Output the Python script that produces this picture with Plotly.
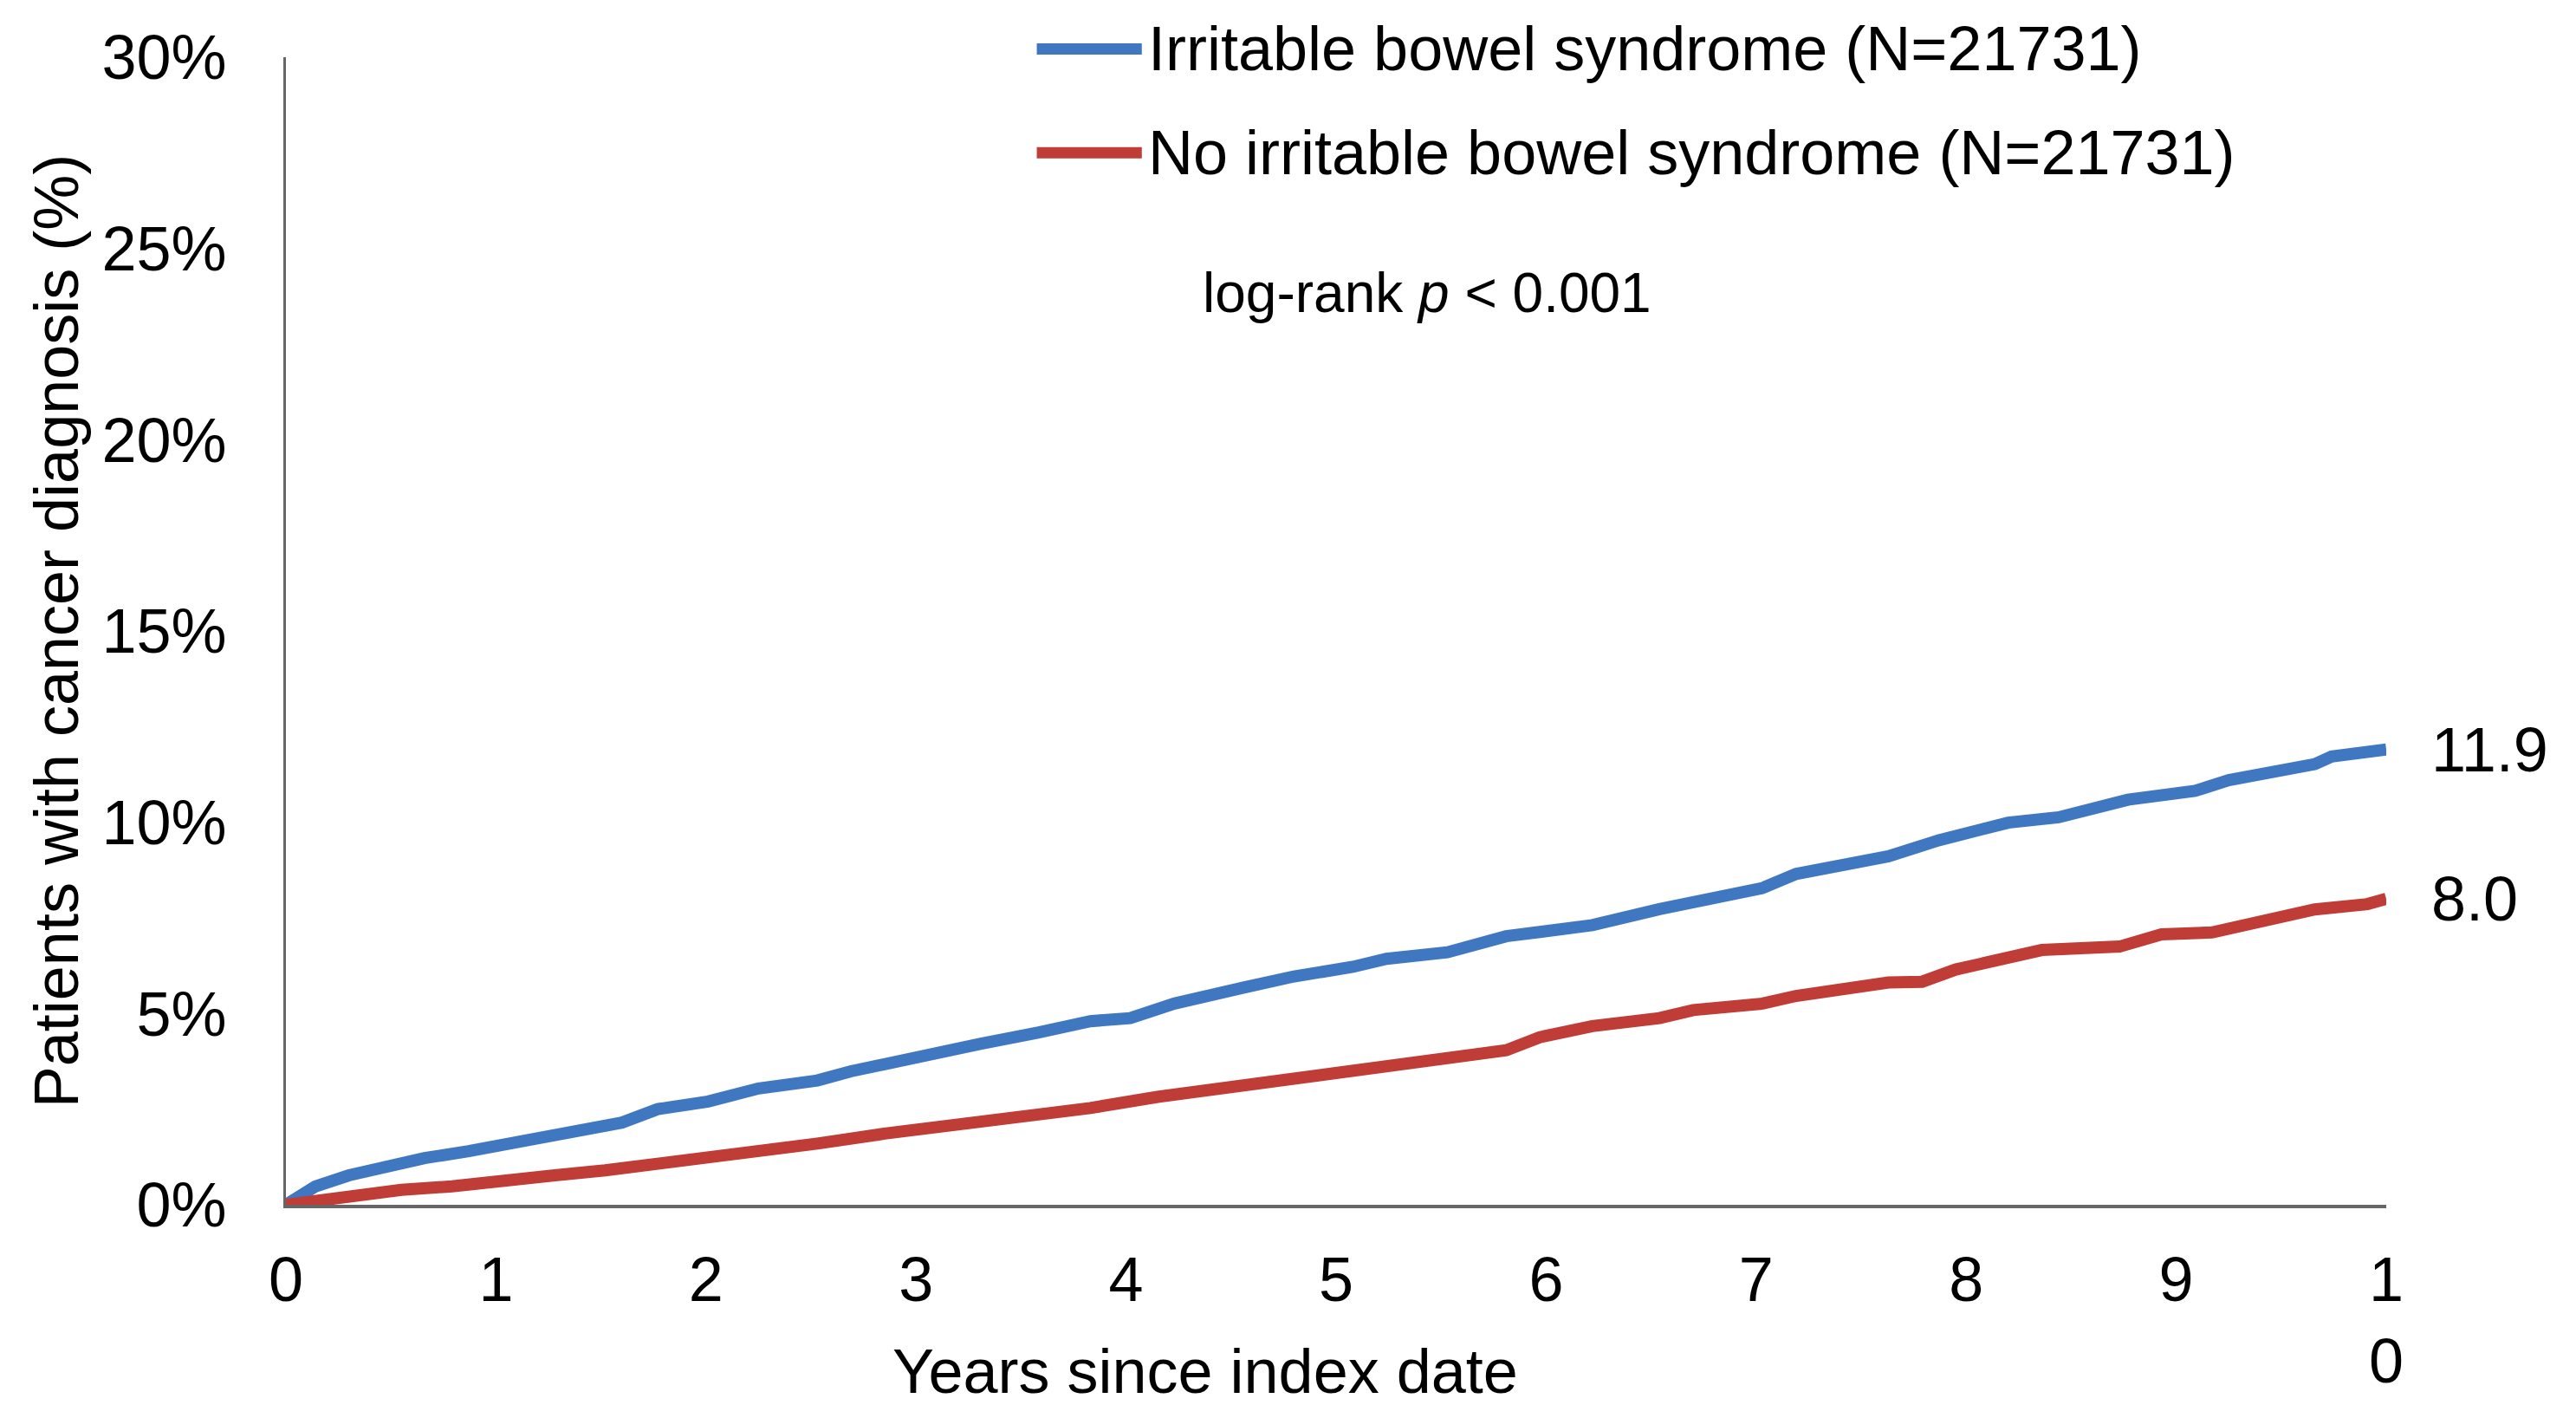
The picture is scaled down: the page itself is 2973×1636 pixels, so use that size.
import plotly.graph_objects as go

# ---- data ----
ibs_years = [0, 0.14, 0.30, 0.46, 0.66, 0.87, 1.11, 1.28, 1.52, 1.60, 1.77, 2.01, 2.25, 2.53,
             2.69, 2.93, 3.31, 3.58, 3.83, 4.02, 4.23, 4.56, 4.80, 5.08, 5.24, 5.53, 5.81,
             6.22, 6.54, 7.03, 7.19, 7.63, 7.87, 8.20, 8.44, 8.77, 9.09, 9.25, 9.66, 9.74,
             9.91, 10.0]
ibs_pct = [0, 0.48, 0.77, 0.98, 1.22, 1.40, 1.65, 1.85, 2.06, 2.15, 2.50, 2.70, 3.04, 3.25,
           3.49, 3.79, 4.21, 4.50, 4.80, 4.88, 5.26, 5.68, 5.97, 6.22, 6.43, 6.60, 7.02,
           7.31, 7.73, 8.28, 8.65, 9.11, 9.53, 9.99, 10.13, 10.59, 10.82, 11.10, 11.52, 11.72,
           11.80, 11.9]

no_ibs_years = [0, 0.22, 0.38, 0.55, 0.79, 0.95, 1.28, 1.52, 1.77, 2.01, 2.25, 2.53, 2.85,
                3.18, 3.50, 3.83, 4.15, 4.48, 4.80, 5.08, 5.48, 5.81, 5.97, 6.22, 6.54, 6.70,
                7.03, 7.19, 7.63, 7.79, 7.95, 8.36, 8.73, 8.93, 9.17, 9.42, 9.66, 9.91, 10.0]
no_ibs_pct = [0, 0.18, 0.27, 0.39, 0.48, 0.60, 0.77, 0.90, 1.06, 1.19, 1.40, 1.60, 1.86,
              2.07, 2.28, 2.53, 2.82, 3.07, 3.33, 3.52, 3.87, 4.04, 4.38, 4.67, 4.88, 5.09,
              5.26, 5.46, 5.81, 5.83, 6.15, 6.66, 6.75, 7.07, 7.12, 7.45, 7.72, 7.86, 8.0]

series_names = ["Irritable bowel syndrome (N=21731)", "No irritable bowel syndrome (N=21731)"]
x_tick_vals = [0, 1, 2, 3, 4, 5, 6, 7, 8, 9, 10]
x_tick_text = ["0", "1", "2", "3", "4", "5", "6", "7", "8", "9", "1<br>0"]
y_tick_vals = [0, 5, 10, 15, 20, 25, 30]
y_tick_text = ["0%", "5%", "10%", "15%", "20%", "25%", "30%"]

BLUE = "#3F78C1"
RED = "#C03C37"
FONT = "Liberation Sans, Arial, sans-serif"
AXIS = "#666666"

fig = go.Figure()
fig.add_trace(go.Scatter(x=ibs_years, y=ibs_pct, mode="lines", name=series_names[0],
                         line=dict(color=BLUE, width=14), showlegend=False))
fig.add_trace(go.Scatter(x=no_ibs_years, y=no_ibs_pct, mode="lines", name=series_names[1],
                         line=dict(color=RED, width=14), showlegend=False))

# end-of-curve labels
for xs, ys in ((ibs_years, ibs_pct), (no_ibs_years, no_ibs_pct)):
    fig.add_annotation(x=xs[-1], y=ys[-1], text=f"{ys[-1]:.1f}", showarrow=False,
                       xanchor="left", yanchor="middle", xshift=50,
                       font=dict(family=FONT, size=72, color="black"))

# legend (drawn manually to mimic long keys)
leg_y = [1.0072, 0.9168]
for name, col, ly in zip(series_names, [BLUE, RED], leg_y):
    fig.add_shape(type="line", xref="paper", yref="paper", x0=0.3575, x1=0.4075,
                  y0=ly, y1=ly, line=dict(color=col, width=13))
    fig.add_annotation(xref="paper", yref="paper", x=0.4095, y=ly, text=name,
                       showarrow=False, xanchor="left", yanchor="middle",
                       font=dict(family=FONT, size=72, color="black"))

fig.add_annotation(xref="paper", yref="paper", x=0.4358, y=0.7948,
                   text="log-rank <i>p</i> < 0.001", showarrow=False,
                   xanchor="left", yanchor="middle",
                   font=dict(family=FONT, size=64, color="black"))

fig.add_annotation(xref="paper", yref="paper", x=0.4375, y=-0.145,
                   text="Years since index date", showarrow=False,
                   xanchor="center", yanchor="middle",
                   font=dict(family=FONT, size=72, color="black"))

fig.update_layout(
    width=2973, height=1636, autosize=False,
    margin=dict(l=322, r=227, t=58, b=254),
    paper_bgcolor="white", plot_bgcolor="white",
    font=dict(family=FONT, size=72, color="black"),
    xaxis=dict(range=[0, 10], tickvals=x_tick_vals, ticktext=x_tick_text,
               showgrid=False, zeroline=False, showline=True, linecolor=AXIS,
               linewidth=4, ticks="", ticklabelstandoff=21, layer="below traces",
               tickfont=dict(family=FONT, size=72, color="black")),
    yaxis=dict(range=[0, 30], tickvals=y_tick_vals, ticktext=y_tick_text,
               showgrid=False, zeroline=False, showline=True, linecolor=AXIS,
               linewidth=3, ticks="", ticklabelstandoff=51, layer="below traces",
               tickfont=dict(family=FONT, size=72, color="black"),
               title=dict(text="Patients with cancer diagnosis (%)", standoff=4,
                          font=dict(family=FONT, size=72, color="black"))),
)

fig.write_html("out.html")
